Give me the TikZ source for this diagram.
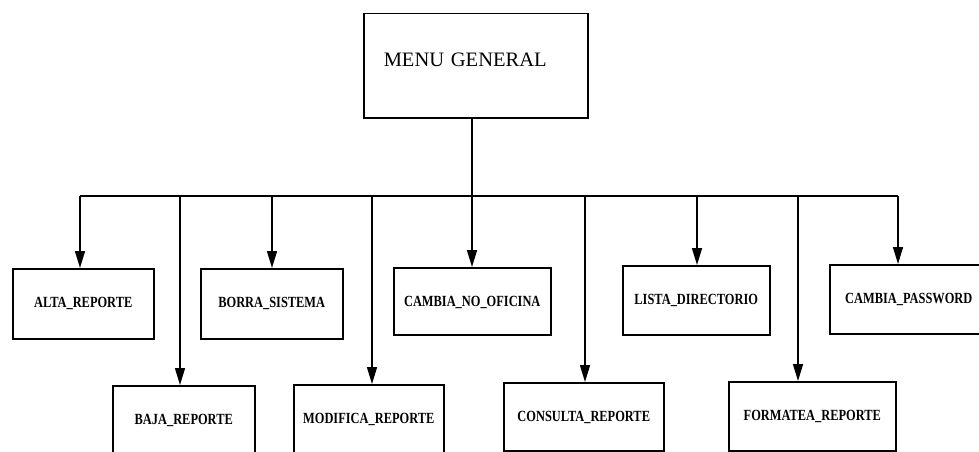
\documentclass[tikz,border=0pt]{standalone}
\usepackage{fontspec}
\setmainfont{Liberation Serif}
\newfontfamily\modfont[FakeStretch=0.8]{Liberation Serif}
\usetikzlibrary{arrows.meta}

\tikzset{
  modbox/.style={draw, line width=1.5pt, inner sep=0pt, anchor=north west,
    text height=39pt, font=\modfont\bfseries\fontsize{15.5}{15.5}\selectfont},
  link/.style={line width=1.5pt},
  drop/.style={line width=1.5pt, -{Triangle[length=17pt,width=10pt]}}
}

\begin{document}
\begin{tikzpicture}[x=1pt,y=-1pt]
    \useasboundingbox (0,0) rectangle (979,452);

    % Main menu box (text sits in the upper left part)
    \node[draw, line width=1.5pt, anchor=north west, inner ysep=0pt, inner xsep=20pt,
      text width=184pt, align=left, text height=53pt, text depth=51pt,
      font=\fontsize{20.5}{21}\selectfont] (menu) at (363,13) {MENU GENERAL};

    % Upper row of modules
    \node[modbox, minimum width=141pt, text depth=31pt] (alta)  at (12,268)  {ALTA\_REPORTE};
    \node[modbox, minimum width=142pt, text depth=31pt] (borra) at (200,268) {BORRA\_SISTEMA};
    \node[modbox, minimum width=157pt, text depth=28pt] (cno)   at (393,267) {CAMBIA\_NO\_OFICINA};
    \node[modbox, minimum width=147pt, text depth=30pt] (lista) at (622,265) {LISTA\_DIRECTORIO};
    \node[modbox, minimum width=158pt, text depth=30pt] (cpass) at (829,264) {CAMBIA\_PASSWORD};

    % Lower row of modules (cut off by the page edge)
    \node[modbox, minimum width=142pt, text depth=80pt] (baja)  at (112,385) {BAJA\_REPORTE};
    \node[modbox, minimum width=150pt, text depth=80pt] (modif) at (293,384) {MODIFICA\_REPORTE};
    \node[modbox, minimum width=160pt, text depth=29pt] (consu) at (503,382) {CONSULTA\_REPORTE};
    \node[modbox, minimum width=167pt, text depth=30pt] (forma) at (728,381) {FORMATEA\_REPORTE};

    % Drop points on the bus line
    \foreach \n/\x in {alta/80, baja/180, borra/272, modif/372, cno/472,
                       consu/585, lista/697, forma/798, cpass/898}
      \coordinate (d\n) at (\x,196);

    % Bus line and connectors
    \draw[link] (menu.south -| dcno) -- (dcno);
    \draw[link] (dalta) -- (dcpass);
    \foreach \n in {alta, baja, borra, modif, cno, consu, lista, forma, cpass}
      \draw[drop] (d\n) -- (d\n |- \n.north);

\end{tikzpicture}
\end{document}
